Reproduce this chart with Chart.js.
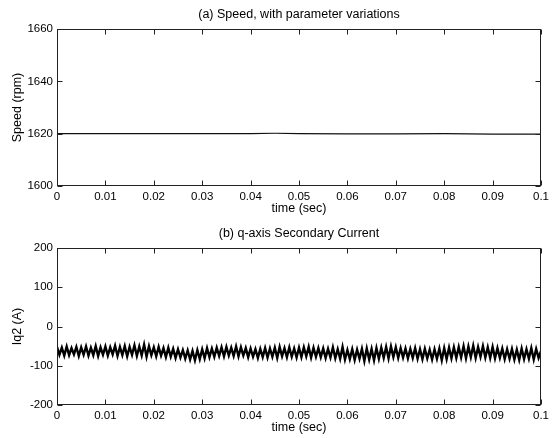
<!DOCTYPE html>
<html>
<head>
<meta charset="utf-8">
<script src="https://cdn.jsdelivr.net/npm/chart.js@4.4.0/dist/chart.umd.min.js"></script>
<style>
html, body { margin: 0; padding: 0; background: #fff; }
#wrap { position: relative; width: 553px; height: 438px; }
.box { position: absolute; left: 0; width: 553px; height: 219px; }
</style>
</head>
<body>
<div id="wrap">
  <div class="box" style="top:0"><canvas id="speedChart" width="553" height="219"></canvas></div>
  <div class="box" style="top:219px"><canvas id="iqChart" width="553" height="219"></canvas></div>
</div>
<script>
// time axis ticks (both plots)
const timeTicks = [0, 0.01, 0.02, 0.03, 0.04, 0.05, 0.06, 0.07, 0.08, 0.09, 0.1];
const timeTickLabels = ['0', '0.01', '0.02', '0.03', '0.04', '0.05', '0.06', '0.07', '0.08', '0.09', '0.1'];

// (a) speed
const speedTicks = [1600, 1620, 1640, 1660];
const speedTime = [0, 0.01, 0.02, 0.03, 0.04, 0.045, 0.05, 0.06, 0.07, 0.08, 0.09, 0.1];
const speedValues = [1620, 1620, 1620, 1620, 1620.05, 1620.15, 1620.05, 1619.9, 1619.95, 1620, 1619.85, 1619.85];

// (b) q-axis secondary current, sampled every 0.5 ms
const iqStep = 0.0005;
const iqValues = [
  -52, -72, -54, -74, -51, -73, -55, -71, -52, -75,
  -53, -72, -51, -74, -54, -73, -50, -75, -53, -72,
  -51, -74, -53, -71, -49, -75, -52, -73, -50, -76,
  -52, -72, -48, -75, -51, -74, -46, -77, -50, -73,
  -53, -76, -52, -74, -55, -78, -54, -77, -57, -80,
  -58, -79, -60, -82, -61, -84, -62, -86, -60, -83,
  -58, -81, -55, -78, -56, -77, -54, -75, -53, -76,
  -52, -74, -54, -75, -51, -76, -53, -74, -55, -78,
  -56, -77, -58, -80, -57, -78, -55, -79, -56, -77,
  -54, -80, -52, -76, -55, -78, -53, -77, -56, -79,
  -54, -78, -53, -76, -52, -79, -54, -77, -55, -78,
  -56, -80, -57, -79, -53, -81, -58, -82, -52, -84,
  -60, -83, -58, -85, -59, -82, -57, -88, -56, -84,
  -57, -86, -55, -82, -54, -80, -52, -81, -51, -78,
  -53, -80, -55, -79, -56, -81, -57, -80, -55, -82,
  -58, -83, -57, -81, -59, -84, -58, -82, -56, -86,
  -55, -83, -54, -81, -53, -80, -52, -79, -50, -81,
  -51, -78, -49, -80, -52, -77, -50, -79, -53, -80,
  -52, -81, -55, -80, -56, -83, -58, -82, -57, -84,
  -59, -85, -56, -83, -58, -82, -55, -84, -57, -80,
  -62
];
const iqTicks = [-200, -100, 0, 100, 200];

const FONT = 'Liberation Sans, Arial, Helvetica, sans-serif';

// matlab style box with inward ticks on all four sides
const matlabBox = {
  id: 'matlabBox',
  afterDatasetsDraw(chart) {
    const { ctx, chartArea: a, scales: { x, y } } = chart;
    const L = Math.round(a.left) + 0.5, R = Math.round(a.right) - 0.5;
    const T = Math.round(a.top) + 0.5, B = Math.round(a.bottom) - 0.5;
    ctx.save();
    ctx.strokeStyle = '#222';
    ctx.lineWidth = 1;
    ctx.strokeRect(L, T, R - L, B - T);
    ctx.beginPath();
    x.ticks.forEach(t => {
      const px = Math.round(x.getPixelForValue(t.value)) + 0.5;
      ctx.moveTo(px, B); ctx.lineTo(px, B - 5);
      ctx.moveTo(px, T); ctx.lineTo(px, T + 5);
    });
    y.ticks.forEach(t => {
      const py = Math.round(y.getPixelForValue(t.value)) + 0.5;
      ctx.moveTo(L, py); ctx.lineTo(L + 5, py);
      ctx.moveTo(R, py); ctx.lineTo(R - 5, py);
    });
    ctx.stroke();
    ctx.restore();
  }
};

function makeOptions(title, yTitle, yTicks) {
  return {
    responsive: false,
    animation: false,
    events: [],
    layout: { padding: { left: 0, right: 12, top: 0, bottom: 0 } },
    plugins: {
      legend: { display: false },
      tooltip: { enabled: false }
    },
    scales: {
      // top axis only carries the plot title, centred over the plot box
      xTop: {
        type: 'linear',
        position: 'top',
        min: 0,
        max: 0.1,
        grid: { display: false, drawTicks: false },
        border: { display: false },
        ticks: { display: false },
        afterFit: s => { s.height = 29; },
        title: {
          display: true,
          text: title,
          color: '#000',
          font: { family: FONT, size: 12.5 },
          padding: { top: 7.5, bottom: 0 }
        }
      },
      x: {
        type: 'linear',
        min: 0,
        max: 0.1,
        grid: { display: false, drawTicks: false },
        border: { display: false },
        afterBuildTicks: s => { s.ticks = timeTicks.map(v => ({ value: v })); },
        afterFit: s => { s.height = 33; },
        ticks: {
          color: '#000',
          font: { family: FONT, size: 11.5 },
          padding: 4,
          maxRotation: 0,
          autoSkip: false,
          callback: (v, i) => timeTickLabels[i]
        },
        title: {
          display: true,
          text: 'time (sec)',
          color: '#000',
          font: { family: FONT, size: 12.5 },
          padding: { top: 0, bottom: 2.5 }
        }
      },
      y: {
        min: yTicks[0],
        max: yTicks[yTicks.length - 1],
        grid: { display: false, drawTicks: false },
        border: { display: false },
        afterBuildTicks: s => { s.ticks = yTicks.map(v => ({ value: v })); },
        afterFit: s => { s.width = 57; },
        ticks: {
          color: '#000',
          font: { family: FONT, size: 11.5 },
          padding: 4,
          autoSkip: false,
          callback: v => String(v)
        },
        title: {
          display: true,
          text: yTitle,
          color: '#000',
          font: { family: FONT, size: 12.5 },
          padding: { top: 10, bottom: 0 }
        }
      }
    }
  };
}

new Chart(document.getElementById('speedChart'), {
  type: 'line',
  data: {
    datasets: [{
      data: speedTime.map((t, i) => ({ x: t, y: speedValues[i] })),
      borderColor: '#111',
      borderWidth: 1.2,
      pointRadius: 0,
      tension: 0
    }]
  },
  options: makeOptions('(a) Speed, with parameter variations', 'Speed (rpm)', speedTicks),
  plugins: [matlabBox]
});

new Chart(document.getElementById('iqChart'), {
  type: 'line',
  data: {
    datasets: [{
      data: iqValues.map((v, i) => ({ x: i * iqStep, y: v })),
      borderColor: '#000',
      borderWidth: 2.4,
      pointRadius: 0,
      tension: 0
    }]
  },
  options: makeOptions('(b) q-axis Secondary Current', 'Iq2 (A)', iqTicks),
  plugins: [matlabBox]
});
</script>
</body>
</html>
